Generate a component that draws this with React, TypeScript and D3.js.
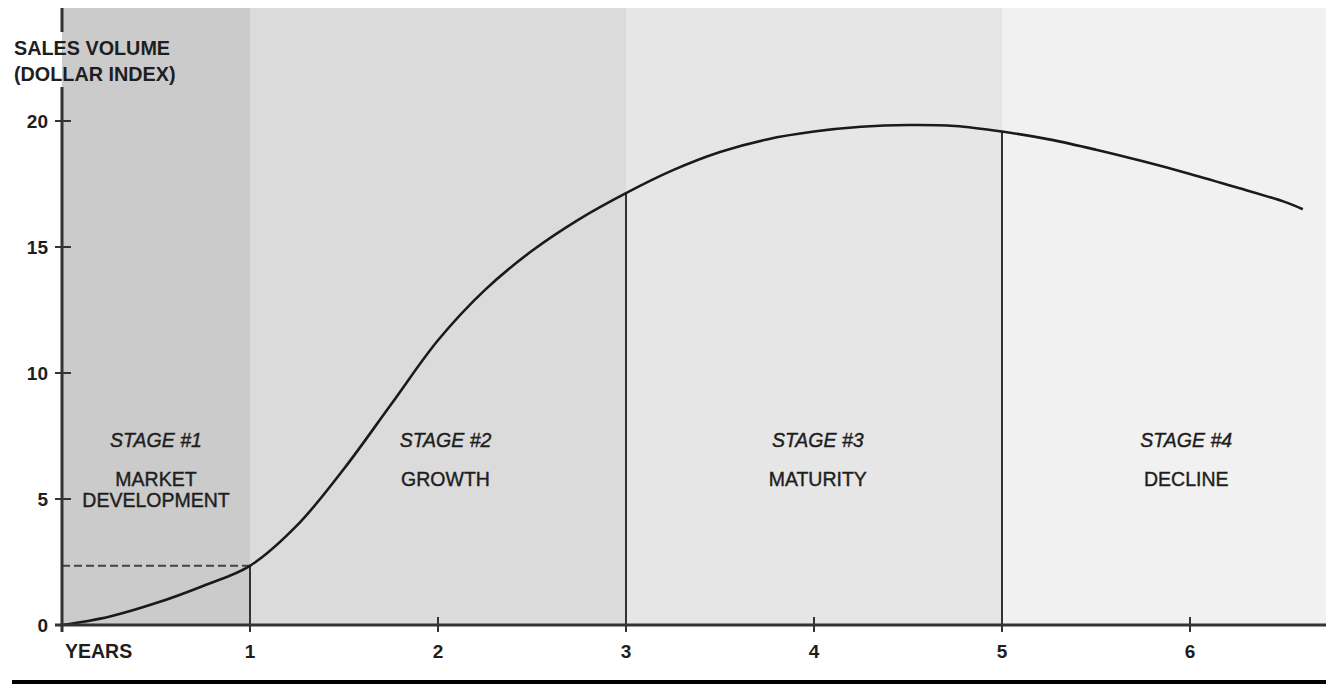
import React from "react";
import * as d3 from "d3";

const years = [0, 0.25, 0.5, 0.75, 1, 1.25, 1.5, 1.75, 2, 2.25, 2.5, 2.75, 3, 3.25, 3.5, 3.75, 4, 4.25, 4.5, 4.75, 5, 5.25, 5.5, 5.75, 6, 6.25, 6.5, 6.6];
const sales = [0, 0.33, 0.87, 1.55, 2.35, 3.95, 6.2, 8.75, 11.3, 13.3, 14.85, 16.1, 17.14, 18.05, 18.77, 19.27, 19.58, 19.77, 19.84, 19.8, 19.58, 19.27, 18.86, 18.4, 17.9, 17.36, 16.8, 16.5];

const yTicks = [0, 5, 10, 15, 20];
const xTicks = [1, 2, 3, 4, 5, 6];

const stageStart = [0, 1, 3, 5];
const stageEnd = [1, 3, 5, 7];
const stageColors = ["#cbcbcb", "#dbdbdb", "#e6e6e6", "#f1f1f1"];
const stageTitles = ["STAGE #1", "STAGE #2", "STAGE #3", "STAGE #4"];
const stageNames = [["MARKET", "DEVELOPMENT"], ["GROWTH"], ["MATURITY"], ["DECLINE"]];
const stageLabelX = [0.5, 2.04, 4.02, 5.98];

const markerYears = [1, 3, 5];

const W = 1326;
const H = 684;
const FONT = "'Liberation Sans', Arial, Helvetica, sans-serif";

export default function App() {
  const x = d3.scaleLinear().domain([0, 6]).range([62, 1190]);
  const y = d3.scaleLinear().domain([0, 20]).range([625, 121]);
  const pts: [number, number][] = years.map((t, i) => [t, sales[i]]);
  const line = d3
    .line<[number, number]>()
    .x((d) => x(d[0]))
    .y((d) => y(d[1]))
    .curve(d3.curveCatmullRom.alpha(0.5));
  const valAt = (t: number) => sales[years.indexOf(t)];
  const top = 8;
  const axisColor = "#333";
  const textColor = "#1e1e1e";

  return (
    <svg width={W} height={H} style={{ position: "absolute", left: 0, top: 0, background: "#fff" }}>
      {stageStart.map((s, i) => (
        <rect
          key={"bg" + i}
          x={x(s)}
          y={top}
          width={Math.min(x(stageEnd[i]), W) - x(s)}
          height={y(0) - top}
          fill={stageColors[i]}
        />
      ))}
      <line
        x1={x(0)}
        x2={x(1)}
        y1={y(valAt(1))}
        y2={y(valAt(1))}
        stroke="#444"
        strokeWidth={2}
        strokeDasharray="8,4"
      />
      {markerYears.map((t) => (
        <line
          key={"m" + t}
          x1={x(t)}
          x2={x(t)}
          y1={y(valAt(t))}
          y2={y(0) + 7}
          stroke={axisColor}
          strokeWidth={2}
        />
      ))}
      <path d={line(pts) || ""} fill="none" stroke="#1a1a1a" strokeWidth={2.6} />
      <line x1={55} x2={W} y1={y(0)} y2={y(0)} stroke={axisColor} strokeWidth={3} />
      <line x1={x(0)} x2={x(0)} y1={top} y2={32} stroke={axisColor} strokeWidth={3} />
      <line x1={x(0)} x2={x(0)} y1={87} y2={y(0) + 7} stroke={axisColor} strokeWidth={3} />
      {yTicks.map((v) => (
        <g key={"yt" + v}>
          <line x1={x(0) - 7} x2={x(0) + 9} y1={y(v)} y2={y(v)} stroke={axisColor} strokeWidth={2} />
          <text
            x={48}
            y={y(v) + 7}
            textAnchor="end"
            fontFamily={FONT}
            fontWeight="bold"
            fontSize={19}
            fill={textColor}
          >
            {v}
          </text>
        </g>
      ))}
      {xTicks.map((t) => (
        <g key={"xt" + t}>
          <line x1={x(t)} x2={x(t)} y1={y(0) - 8} y2={y(0) + 7} stroke={axisColor} strokeWidth={2} />
          <text
            x={x(t)}
            y={658}
            textAnchor="middle"
            fontFamily={FONT}
            fontWeight="bold"
            fontSize={19}
            fill={textColor}
          >
            {t}
          </text>
        </g>
      ))}
      <text x={65} y={658} fontFamily={FONT} fontWeight="bold" fontSize={19.5} fill={textColor}>
        YEARS
      </text>
      <text fontFamily={FONT} fontWeight="bold" fontSize={19.8} fill={textColor}>
        <tspan x={14} y={55}>SALES VOLUME</tspan>
        <tspan x={14} y={81}>(DOLLAR INDEX)</tspan>
      </text>
      {stageTitles.map((s, i) => (
        <g key={"st" + i}>
          <text
            x={x(stageLabelX[i])}
            y={447}
            textAnchor="middle"
            fontFamily={FONT}
            fontStyle="italic"
            fontSize={19.5}
            fill={textColor}
            stroke={textColor}
            strokeWidth={0.4}
          >
            {s}
          </text>
          {stageNames[i].map((n, j) => (
            <text
              key={j}
              x={x(stageLabelX[i])}
              y={486 + j * 21}
              textAnchor="middle"
              fontFamily={FONT}
              fontSize={19.5}
              fill={textColor}
              stroke={textColor}
              strokeWidth={0.4}
            >
              {n}
            </text>
          ))}
        </g>
      ))}
      <rect x={12} y={680} width={W - 12} height={4} fill="#000" />
    </svg>
  );
}
